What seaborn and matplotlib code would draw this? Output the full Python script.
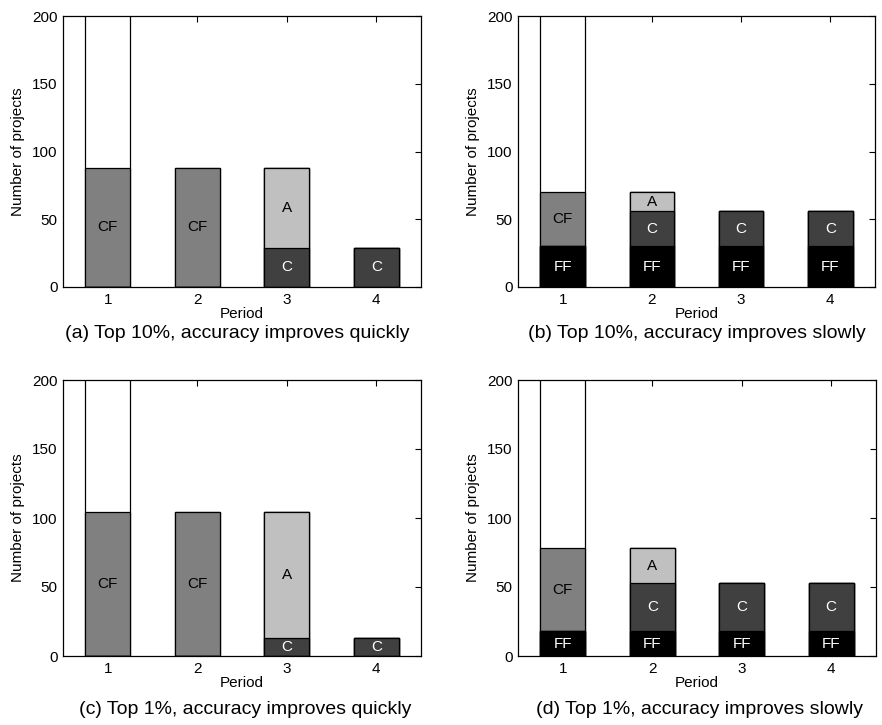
import numpy as np
import pandas as pd
import matplotlib
matplotlib.use("Agg")
import matplotlib.pyplot as plt
import seaborn as sns

sns.set_theme(style="white")
plt.rcParams["font.family"] = ["Liberation Sans", "DejaVu Sans"]
plt.rcParams["text.color"] = "black"
plt.rcParams["axes.labelcolor"] = "black"

periods = [1, 2, 3, 4]

# Stack order, bottom to top
layers = ["FF", "C", "A", "CF", "rest"]
layer_colors = {"FF": "#000000", "C": "#404040", "A": "#c0c0c0",
                "CF": "#808080", "rest": "#ffffff"}
label_colors = {"FF": "white", "C": "white", "A": "black", "CF": "black"}

# Project counts per period for each panel
a_FF = [0, 0, 0, 0]
a_C = [0, 0, 29, 29]
a_A = [0, 0, 59, 0]
a_CF = [88, 88, 0, 0]
a_rest = [1000, 0, 0, 0]

b_FF = [30, 30, 30, 30]
b_C = [0, 26, 26, 26]
b_A = [0, 14, 0, 0]
b_CF = [40, 0, 0, 0]
b_rest = [1000, 0, 0, 0]

c_FF = [0, 0, 0, 0]
c_C = [0, 0, 13, 13]
c_A = [0, 0, 91, 0]
c_CF = [104, 104, 0, 0]
c_rest = [1000, 0, 0, 0]

d_FF = [18, 18, 18, 18]
d_C = [0, 35, 35, 35]
d_A = [0, 25, 0, 0]
d_CF = [60, 0, 0, 0]
d_rest = [1000, 0, 0, 0]

panels = [
    ("(a) Top 10%, accuracy improves quickly", [a_FF, a_C, a_A, a_CF, a_rest]),
    ("(b) Top 10%, accuracy improves slowly", [b_FF, b_C, b_A, b_CF, b_rest]),
    ("(c) Top 1%, accuracy improves quickly", [c_FF, c_C, c_A, c_CF, c_rest]),
    ("(d) Top 1%, accuracy improves slowly", [d_FF, d_C, d_A, d_CF, d_rest]),
]

W, H = 882, 725
fig = plt.figure(figsize=(W / 100, H / 100), dpi=100)

# axes boxes in pixels: left, top, right, bottom
boxes = [(63, 16, 421, 287), (518, 16, 875, 287),
         (63, 380, 421, 656), (518, 380, 876, 656)]
captions_xy = [(237, 338), (697, 338), (245, 714), (699, 714)]

for (title, vals), (l, t, r, b), (cx, cy) in zip(panels, boxes, captions_xy):
    ax = fig.add_axes([l / W, 1 - b / H, (r - l) / W, (b - t) / H])
    df = pd.DataFrame({"period": periods})
    cum = np.zeros(len(periods))
    tops = {}
    for name, v in zip(layers, vals):
        lo = cum.copy()
        cum = cum + np.array(v, dtype=float)
        tops[name] = (lo, cum.copy())
    # draw cumulative heights from the top layer down so lower layers overlay
    for name in reversed(layers):
        df["height"] = tops[name][1]
        sns.barplot(data=df, x="period", y="height", native_scale=True,
                    width=0.5, color=layer_colors[name], saturation=1,
                    edgecolor="black", linewidth=0.9, errorbar=None, ax=ax)
    # segment labels
    for name in layers[:-1]:
        lo, hi = tops[name]
        for p, a0, a1 in zip(periods, lo, hi):
            if a1 - a0 > 0:
                ax.text(p, (a0 + a1) / 2, name, ha="center", va="center",
                        fontsize=11, color=label_colors[name])
    ax.set_xlim(0.5, 4.5)
    ax.set_ylim(0, 200)
    ax.set_xticks(periods)
    ax.set_xticklabels([str(p) for p in periods])
    ax.set_yticks([0, 50, 100, 150, 200])
    ax.tick_params(direction="in", length=4, width=0.8, top=True, right=True,
                   labelsize=11, pad=4, colors="black")
    for s in ax.spines.values():
        s.set_color("black")
        s.set_linewidth(0.9)
    ax.set_xlabel("Period", fontsize=11, labelpad=0)
    ax.set_ylabel("Number of projects", fontsize=11, labelpad=5)
    fig.text(cx / W, 1 - cy / H, title, ha="center", va="baseline", fontsize=14)

fig.savefig("out.png", dpi=100)
